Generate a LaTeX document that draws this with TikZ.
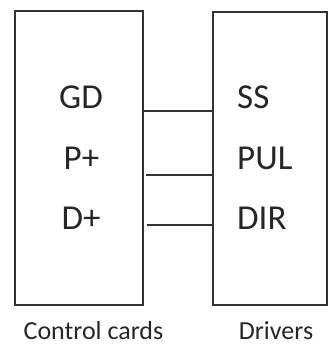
\documentclass[tikz,border=0pt]{standalone}
\usepackage{fontspec}
\setmainfont{Carlito}
\begin{document}
\begin{tikzpicture}[x=1pt,y=-1pt,
  boxstyle/.style={draw=black!80,line width=1.6pt,inner sep=0pt},
  pin/.style={font=\fontsize{35}{40}\selectfont,text=black!85,inner sep=0pt},
  caption/.style={font=\fontsize{26}{29}\selectfont,text=black!85,inner sep=0pt},
  wire/.style={draw=black!80,line width=1.6pt}]
\useasboundingbox (0,0) rectangle (329,347);
\node[boxstyle,minimum width=128pt,minimum height=294pt] (cc) at (79,158) {};
\node[boxstyle,minimum width=114pt,minimum height=293pt] (dr) at (270,158.5) {};
\node[pin,anchor=center] (gd) at (81,97.5) {GD};
\node[pin,anchor=center] (pp) at (81.5,158) {P+};
\node[pin,anchor=center] (dp) at (81,218.5) {D+};
\node[pin,anchor=west] (ss) at (237,97.5) {SS};
\node[pin,anchor=west] (pul) at (237,158) {PUL};
\node[pin,anchor=west] (dir) at (237,218.5) {DIR};
\node[caption,anchor=center] (lc) at (93.5,331) {Control cards};
\node[caption,anchor=center] (ld) at (276,331) {Drivers};
\coordinate (a1) at (143,111);
\coordinate (a2) at (146,175);
\coordinate (a3) at (147,225);
\draw[wire] (a1) -- (a1 -| dr.west);
\draw[wire] (a2) -- (a2 -| dr.west);
\draw[wire] (a3) -- (a3 -| dr.west);
\end{tikzpicture}
\end{document}
